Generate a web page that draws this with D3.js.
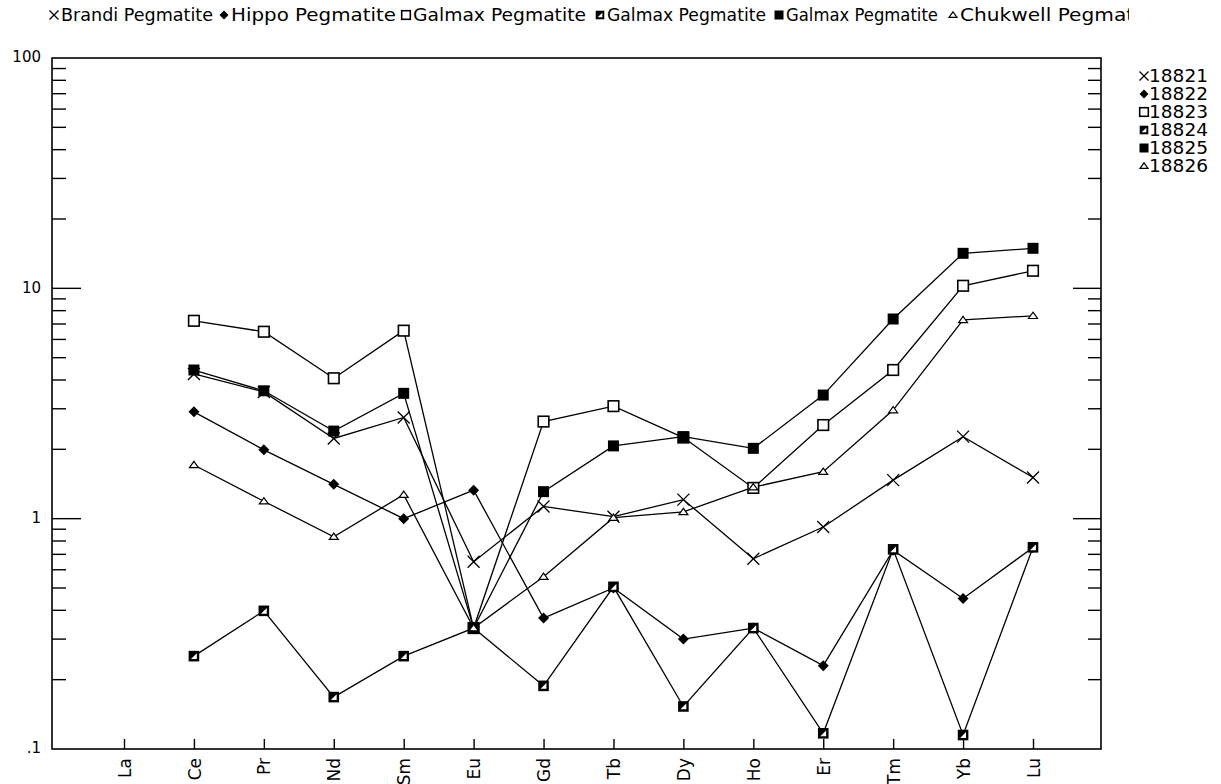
<!DOCTYPE html>
<html>
<head>
<meta charset="utf-8">
<script src="https://cdn.jsdelivr.net/npm/d3@7"></script>
<style>
  body { margin: 0; background: #fff; }
  svg { display: block; }
  text { font-family: "DejaVu Sans", "Liberation Sans", sans-serif; fill: #000; }
</style>
</head>
<body>
<svg id="chart" width="1221" height="784"></svg>
<script>
// Rare-earth element pattern, chondrite-normalised (log scale)
const elements = ["La", "Ce", "Pr", "Nd", "Sm", "Eu", "Gd", "Tb", "Dy", "Ho", "Er", "Tm", "Yb", "Lu"];

const sampleIds = ["18821", "18822", "18823", "18824", "18825", "18826"];
const localities = ["Brandi Pegmatite", "Hippo Pegmatite", "Galmax Pegmatite",
                    "Galmax Pegmatite", "Galmax Pegmatite", "Chukwell Pegmatite"];
const markerKinds = ["cross", "diamond", "open", "half", "filled", "triangle"];

const s18821 = [null, 4.25, 3.55, 2.23, 2.75, 0.65, 1.13, 1.02, 1.21, 0.67, 0.92, 1.47, 2.27, 1.51];
const s18822 = [null, 2.91, 1.99, 1.41, 1.00, 1.33, 0.37, 0.50, 0.30, 0.335, 0.23, 0.73, 0.45, 0.75];
const s18823 = [null, 7.23, 6.48, 4.07, 6.55, 0.335, 2.64, 3.08, 2.25, 1.36, 2.55, 4.42, 10.26, 11.92];
const s18824 = [null, 0.253, 0.398, 0.168, 0.253, 0.335, 0.188, 0.506, 0.153, 0.335, 0.117, 0.736, 0.115, 0.751];
const s18825 = [null, 4.42, 3.59, 2.40, 3.50, 0.335, 1.31, 2.07, 2.27, 2.02, 3.44, 7.36, 14.19, 14.92];
const s18826 = [null, 1.71, 1.19, 0.835, 1.27, 0.335, 0.56, 1.01, 1.07, 1.37, 1.60, 2.96, 7.29, 7.60];

const yTickValues = [0.1, 1, 10, 100];
const yTickLabels = [".1", "1", "10", "100"];

const seriesValues = [s18821, s18822, s18823, s18824, s18825, s18826];
const series = sampleIds.map((id, i) => ({
  id, locality: localities[i], kind: markerKinds[i],
  points: elements.map((el, j) => ({ el, v: seriesValues[i][j] })).filter(d => d.v != null)
}));

const svg = d3.select("#chart");
const frame = { left: 52, right: 1101, top: 58, bottom: 749 };

const x = d3.scalePoint().domain(elements).range([124, 1033]);
const y = d3.scaleLog().domain([0.1, 100]).range([frame.bottom, frame.top]);

// ---- marker shapes ----
function marker(g, kind, s) {
  if (kind === "cross") {
    g.append("path").attr("d", `M${-s},${-s}L${s},${s}M${-s},${s}L${s},${-s}`)
      .attr("stroke", "#000").attr("stroke-width", 1.3).attr("fill", "none");
  } else if (kind === "diamond") {
    g.append("path").attr("d", `M0,${-s}L${s},0L0,${s}L${-s},0Z`).attr("fill", "#000");
  } else if (kind === "open") {
    g.append("rect").attr("x", -s).attr("y", -s).attr("width", 2 * s).attr("height", 2 * s)
      .attr("fill", "#fff").attr("stroke", "#000").attr("stroke-width", 1.6);
  } else if (kind === "half") {
    g.append("rect").attr("x", -s).attr("y", -s).attr("width", 2 * s).attr("height", 2 * s)
      .attr("fill", "#000");
    const a = s * 0.55;
    g.append("path").attr("d", `M${a},${-a}L${a},${a}L${-a},${a}Z`).attr("fill", "#fff");
  } else if (kind === "filled") {
    g.append("rect").attr("x", -s).attr("y", -s).attr("width", 2 * s).attr("height", 2 * s)
      .attr("fill", "#000");
  } else if (kind === "triangle") {
    g.append("path").attr("d", `M0,${-s * 0.8}L${s},${s * 0.6}L${-s},${s * 0.6}Z`)
      .attr("fill", "#fff").attr("stroke", "#000").attr("stroke-width", 1.2);
  }
}
const plotSize = { cross: 6, diamond: 5.5, open: 5.3, half: 5.3, filled: 5.5, triangle: 4.5 };
const legendSize = { cross: 4.5, diamond: 4.5, open: 4.3, half: 4.3, filled: 4.5, triangle: 4 };

// ---- frame and ticks ----
const axes = svg.append("g");
axes.append("rect")
  .attr("x", frame.left).attr("y", frame.top)
  .attr("width", frame.right - frame.left).attr("height", frame.bottom - frame.top)
  .attr("fill", "none").attr("stroke", "#000").attr("stroke-width", 1.6);

const logTicks = y.ticks().filter(t => t > 0.1 && t < 100);
const isMajor = t => yTickValues.includes(t);
axes.selectAll("line.yl").data(logTicks).join("line")
  .attr("x1", frame.left).attr("x2", t => frame.left + (isMajor(t) ? 29 : 14))
  .attr("y1", t => y(t)).attr("y2", t => y(t))
  .attr("stroke", "#000").attr("stroke-width", 1.4);
axes.selectAll("line.yr").data(logTicks).join("line")
  .attr("x1", frame.right).attr("x2", t => frame.right - (isMajor(t) ? 28 : 13))
  .attr("y1", t => y(t)).attr("y2", t => y(t))
  .attr("stroke", "#000").attr("stroke-width", 1.4);

// y labels through the axis generator
const yAxis = d3.axisLeft(y).tickValues(yTickValues)
  .tickFormat((d, i) => yTickLabels[i]).tickSize(0).tickPadding(0);
const yg = axes.append("g").attr("transform", `translate(${frame.left - 11},0)`).call(yAxis);
yg.select(".domain").remove();
yg.selectAll("text").style("font-size", "15px")
  .style("font-family", "\"DejaVu Sans\", sans-serif").attr("dy", "0.25em");

// x ticks and rotated element labels
const xAxis = d3.axisBottom(x).tickSize(0).tickPadding(0);
const xg = axes.append("g").attr("transform", `translate(0,${frame.bottom})`).call(xAxis);
xg.select(".domain").remove();
xg.selectAll(".tick line").remove();
xg.selectAll(".tick").append("line").attr("y1", 0).attr("y2", -10)
  .attr("stroke", "#000").attr("stroke-width", 1.4);
xg.selectAll(".tick text")
  .attr("transform", "rotate(-90)")
  .attr("x", -9).attr("y", 0).attr("dy", "0.36em")
  .attr("text-anchor", "end")
  .style("font-size", "17px");

// ---- data lines and markers ----
const line = d3.line().x(d => x(d.el)).y(d => y(d.v));
const plot = svg.append("g");
series.forEach(s => {
  plot.append("path").datum(s.points).attr("d", line)
    .attr("fill", "none").attr("stroke", "#000").attr("stroke-width", 1.3);
});
series.forEach(s => {
  s.points.forEach(p => {
    const g = plot.append("g").attr("transform", `translate(${x(p.el)},${y(p.v)})`);
    marker(g, s.kind, plotSize[s.kind]);
  });
});

// ---- top legend (localities), cut off at the right edge of the header ----
svg.append("clipPath").attr("id", "topClip")
  .append("rect").attr("x", 0).attr("y", 0).attr("width", 1129).attr("height", 40);
const topLegend = svg.append("g").attr("clip-path", "url(#topClip)");
const topX = [49, 219, 401, 595, 774, 948];
const topTextLen = [152, 165, 173, 159, 152, 200];
series.forEach((s, i) => {
  const g = topLegend.append("g").attr("transform", `translate(${topX[i]},0)`);
  const m = g.append("g").attr("transform", "translate(5,15)");
  marker(m, s.kind, legendSize[s.kind]);
  g.append("text").attr("x", 12).attr("y", 21).style("font-size", "17px")
    .attr("textLength", topTextLen[i]).attr("lengthAdjust", "spacingAndGlyphs")
    .text(s.locality);
});

// ---- right legend (sample numbers) ----
const rightLegend = svg.append("g").attr("transform", "translate(1144,0)");
series.forEach((s, i) => {
  const yy = 82 + i * 18;
  const m = rightLegend.append("g").attr("transform", `translate(0,${yy - 6})`);
  marker(m, s.kind, legendSize[s.kind]);
  rightLegend.append("text").attr("x", 5).attr("y", yy).style("font-size", "17px")
    .attr("textLength", 59).attr("lengthAdjust", "spacingAndGlyphs").text(s.id);
});
</script>
</body>
</html>
